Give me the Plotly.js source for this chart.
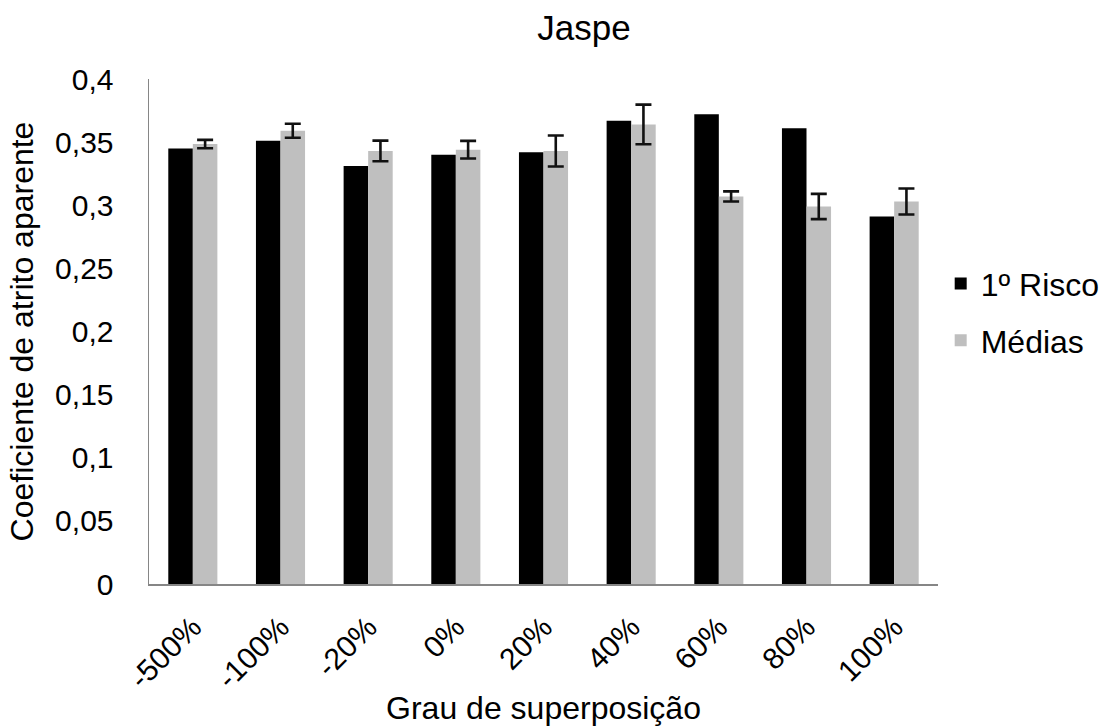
<!DOCTYPE html>
<html>
<head>
<meta charset="utf-8">
<script src="https://cdn.plot.ly/plotly-3.0.1.min.js"></script>
<style>html,body{margin:0;padding:0;background:#fff;}#chart{width:1108px;height:726px;}</style>
</head>
<body>
<div id="chart"></div>
<script>
const categories = ["-500%", "-100%", "-20%", "0%", "20%", "40%", "60%", "80%", "100%"];
const primeiroRisco = [0.345, 0.351, 0.331, 0.340, 0.342, 0.367, 0.372, 0.361, 0.291];
const medias = [0.3485, 0.359, 0.343, 0.344, 0.343, 0.364, 0.307, 0.299, 0.303];
const mediasErro = [0.0033, 0.0055, 0.0082, 0.007, 0.0123, 0.0157, 0.004, 0.010, 0.0103];
const yTickVals = [0, 0.05, 0.1, 0.15, 0.2, 0.25, 0.3, 0.35, 0.4];
const yTickText = ["0", "0,05", "0,1", "0,15", "0,2", "0,25", "0,3", "0,35", "0,4"];

const fontFamily = "Arial, 'Liberation Sans', sans-serif";

const data = [
  {
    type: "bar", name: "1º Risco", x: categories, y: primeiroRisco,
    marker: {color: "#000000"}, legendgroup: "a"
  },
  {
    type: "bar", name: "Médias", x: categories, y: medias,
    marker: {color: "#bfbfbf"}, legendgroup: "b",
    error_y: {type: "data", array: mediasErro, visible: true, color: "#111111", thickness: 2.6, width: 8}
  }
];

const layout = {
  width: 1108, height: 726,
  paper_bgcolor: "#ffffff", plot_bgcolor: "#ffffff",
  font: {family: fontFamily, color: "#000000", size: 30},
  margin: {l: 149, r: 170, t: 79, b: 142, autoexpand: false},
  barmode: "group", bargap: 0.44, bargroupgap: 0,
  title: {text: "Jaspe", font: {size: 35, family: fontFamily}, x: 0.527, xanchor: "center", xref: "container", y: 0.962, yanchor: "middle", yref: "container"},
  xaxis: {
    type: "category", tickangle: -45, showline: true, linecolor: "#868686", linewidth: 1.5,
    ticks: "", showgrid: false, zeroline: false, ticklabelstandoff: 12,
    tickfont: {size: 30},
    title: {text: "Grau de superposição", font: {size: 32}, standoff: 10}
  },
  yaxis: {
    range: [0, 0.4], tickvals: yTickVals, ticktext: yTickText, showline: true, linecolor: "#868686", linewidth: 1.5,
    ticks: "", showgrid: false, zeroline: false, ticklabelstandoff: 28,
    tickfont: {size: 30},
    title: {text: "Coeficiente de atrito aparente", font: {size: 32}, standoff: 12}
  },
  legend: {
    x: 0.849, xanchor: "left", xref: "container", y: 0.538, yanchor: "middle",
    font: {size: 32}, traceorder: "grouped", tracegroupgap: 12, itemwidth: 30, bgcolor: "rgba(0,0,0,0)"
  },
  showlegend: true
};

Plotly.newPlot("chart", data, layout, {displayModeBar: false, staticPlot: true});
</script>
</body>
</html>
